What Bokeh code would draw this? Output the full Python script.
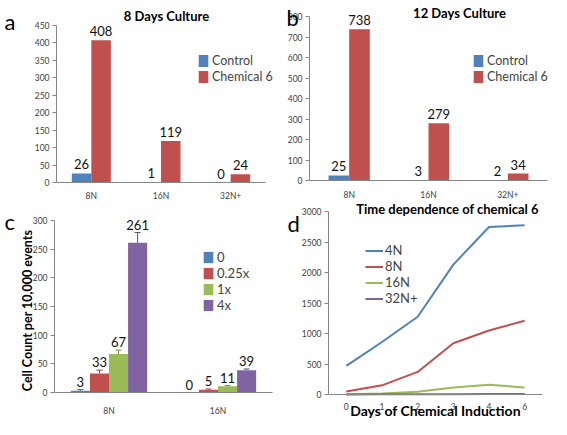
import math
from bokeh.plotting import figure
from bokeh.models import (ColumnDataSource, Label, Legend, LegendItem, Whisker,
                          TeeHead, Range1d, FixedTicker)
from bokeh.transform import dodge
from bokeh.layouts import column, row
from bokeh.embed import file_html
from bokeh.resources import INLINE
from bokeh.core.properties import value

# ---------------- data ----------------
ab_categories = ["8N", "16N", "32N+"]
a_control = [26, 1, 0]
a_chemical = [408, 119, 24]
a_yticks = [0, 50, 100, 150, 200, 250, 300, 350, 400, 450]
b_control = [25, 3, 2]
b_chemical = [738, 279, 34]
b_yticks = [0, 100, 200, 300, 400, 500, 600, 700, 800]

c_categories = ["8N", "16N"]
c_series_names = ["0", "0.25x", "1x", "4x"]
c_dose_0 = [3, 0]
c_dose_025 = [33, 5]
c_dose_1 = [67, 11]
c_dose_4 = [261, 39]
c_err_0 = [2, 0]
c_err_025 = [6, 1]
c_err_1 = [7, 1]
c_err_4 = [18, 2]
c_yticks = [0, 50, 100, 150, 200, 250, 300]

d_days = ["0", "1", "2", "3", "4", "6"]
d_4N = [470, 860, 1275, 2130, 2745, 2775]
d_8N = [50, 150, 370, 840, 1050, 1210]
d_16N = [5, 15, 45, 115, 160, 115]
d_32N = [2, 3, 5, 6, 8, 10]
d_yticks = [0, 500, 1000, 1500, 2000, 2500, 3000]

BLUE = "#4F81BD"
RED = "#C0504D"
GREEN = "#9BBB59"
PURPLE = "#8064A2"
FONT = "Lato"
TICK_FONT = "8.5px"
TITLE_FONT = "13px"

INFO = {}


def make_fig(W, H, ncat, px0, pxn, py0, pytop, ytop, yticks, cats, xstand):
    """Frame covers the whole figure; axes are placed at fixed data locations."""
    sx = (pxn - px0) / ncat
    x_start = -px0 / sx
    x_end = ncat + (W - pxn) / sx
    sy = (py0 - pytop) / ytop
    y_start = -(H - py0) / sy
    y_end = ytop + pytop / sy
    p = figure(width=W, height=H, x_range=Range1d(x_start, x_end),
               y_range=Range1d(y_start, y_end), output_backend="svg",
               toolbar_location=None, min_border=0)
    p.title.visible = False
    p.outline_line_color = None
    p.xgrid.grid_line_color = None
    p.ygrid.grid_line_color = None
    pos = [i + 0.5 for i in range(ncat)]
    xa, ya = p.xaxis[0], p.yaxis[0]
    xa.fixed_location = 0
    ya.fixed_location = 0
    xa.bounds = (0, ncat)
    ya.bounds = (0, ytop)
    xa.ticker = FixedTicker(ticks=pos, minor_ticks=[])
    xa.major_label_overrides = {pp: c for pp, c in zip(pos, cats)}
    ya.ticker = FixedTicker(ticks=yticks, minor_ticks=[])
    for ax in (xa, ya):
        ax.axis_line_color = "#868686"
        ax.major_tick_line_color = "#868686"
        ax.minor_tick_line_color = None
        ax.major_tick_in = 0
        ax.major_tick_out = 4
        ax.major_label_text_font = FONT
        ax.major_label_text_font_size = TICK_FONT
        ax.major_label_text_color = "#404040"
        ax.major_label_standoff = 3
    xa.major_tick_line_color = None
    xa.major_label_standoff = xstand
    INFO[p.id] = (W, H)
    return p, pos


def flabel(p, fx, fy, text, size="13px", bold=False, align="center",
           baseline="middle", angle=0.0, color="#000000"):
    W, H = INFO[p.id]
    lab = Label(x=fx, y=H - fy, x_units="screen", y_units="screen",
                text=text, text_font=FONT, text_font_size=size,
                text_font_style="bold" if bold else "normal",
                text_align=align, text_baseline=baseline, angle=angle,
                text_color=color)
    p.add_layout(lab)


def legend_at(p, items, fx, fy_top, n, row_h, glyph_w, glyph_h, standoff, size="13px"):
    W, H = INFO[p.id]
    leg_h = n * row_h
    lg = Legend(items=items, location=(fx, H - fy_top - leg_h),
                padding=0, margin=0, spacing=0, glyph_width=glyph_w,
                glyph_height=glyph_h, label_height=row_h, label_standoff=standoff,
                label_text_font=FONT, label_text_font_size=size,
                background_fill_alpha=0, border_line_color=None)
    p.add_layout(lg)


def bar_panel(W, H, px0, pxn, py0, pytop, ymax, yticks, control, chem, bw,
              title, tx, ty, letter, lx, ly, legx, legy, xstand):
    p, pos = make_fig(W, H, len(ab_categories), px0, pxn, py0, pytop, ymax,
                      yticks, ab_categories, xstand)
    src = ColumnDataSource(dict(x=pos, control=control, chem=chem,
                                control_txt=[str(v) for v in control],
                                chem_txt=[str(v) for v in chem]))
    r1 = p.vbar(x=dodge("x", -bw / 2), top="control", width=bw,
                source=src, fill_color=BLUE, line_color=None)
    r2 = p.vbar(x=dodge("x", bw / 2), top="chem", width=bw,
                source=src, fill_color=RED, line_color=None)
    for off, col, txt in ((-bw / 2, "control", "control_txt"), (bw / 2, "chem", "chem_txt")):
        p.text(x=dodge("x", off), y=col, text=txt, source=src,
               text_align="center", text_baseline="bottom", y_offset=-4,
               text_font=value(FONT), text_font_size="13px", text_color="#111111")
    flabel(p, tx, ty, title, size=TITLE_FONT, bold=True)
    flabel(p, lx, ly, letter, size="22px", align="left", baseline="alphabetic")
    legend_at(p, [LegendItem(label="Control", renderers=[r1]),
                  LegendItem(label="Chemical 6", renderers=[r2])],
              legx, legy, 2, 16, 12, 15, 3, size="12.5px")
    return p


pa = bar_panel(275, 199, 56, 265, 182, 25, 450, a_yticks, a_control, a_chemical,
               0.28, "8 Days Culture", 166, 15, "a", 4, 21, 197, 52, 4)
pb = bar_panel(276, 199, 34, 272, 180, 16, 800, b_yticks, b_control, b_chemical,
               0.26, "12 Days Culture", 184, 12, "b", 11, 17, 197, 52, 5)

# ---------------- panel c ----------------
pc, pos_c = make_fig(275, 220, len(c_categories), 54, 272, 193, 21, 300, c_yticks,
                     c_categories, 9)
c_vals = [c_dose_0, c_dose_025, c_dose_1, c_dose_4]
c_errs = [c_err_0, c_err_025, c_err_1, c_err_4]
c_cols = [BLUE, RED, GREEN, PURPLE]
c_err_cols = ["#3a6190", "#8f3b39", "#718a41", "#5e4a78"]
bwc = 0.175
c_items = []
for i, (vals, errs, col, ecol, name) in enumerate(zip(c_vals, c_errs, c_cols, c_err_cols, c_series_names)):
    off = (i - 1.5) * bwc
    src = ColumnDataSource(dict(x=pos_c, v=vals,
                                up=[v + e for v, e in zip(vals, errs)],
                                txt=[str(v) for v in vals]))
    r = pc.vbar(x=dodge("x", off), top="v", width=bwc,
                source=src, fill_color=col, line_color=None)
    c_items.append(LegendItem(label=name, renderers=[r]))
    wk = Whisker(base=dodge("x", off), lower="v", upper="up",
                 source=src, line_color=ecol, line_width=1,
                 upper_head=TeeHead(size=6, line_color=ecol, line_width=1),
                 lower_head=None)
    pc.add_layout(wk)
    pc.text(x=dodge("x", off), y="up", text="txt", source=src,
            text_align="center", text_baseline="bottom", y_offset=-3,
            text_font=value(FONT), text_font_size="13px", text_color="#111111")
flabel(pc, 4, 22, "c", size="22px", align="left", baseline="alphabetic")
flabel(pc, 27, 111, "Cell Count per 10,000 events", size="12.5px", bold=True,
       angle=math.pi / 2)
legend_at(pc, c_items, 202, 54, 4, 15, 12, 14, 3, size="13px")

# ---------------- panel d ----------------
pd_, pos_d = make_fig(276, 220, len(d_days), 53, 267, 195, 12, 3000, d_yticks,
                      d_days, 4)
src_d = ColumnDataSource(dict(x=pos_d, n4=d_4N, n8=d_8N, n16=d_16N, n32=d_32N))
d_items = []
for key, col, name in (("n4", BLUE, "4N"), ("n8", RED, "8N"),
                       ("n16", GREEN, "16N"), ("n32", PURPLE, "32N+")):
    r = pd_.line(x="x", y=key, source=src_d, line_color=col, line_width=2)
    d_items.append(LegendItem(label=name, renderers=[r]))
flabel(pd_, 172, 9, "Time dependence of chemical 6", size=TITLE_FONT, bold=True)
flabel(pd_, 12, 24, "d", size="22px", align="left", baseline="alphabetic")
flabel(pd_, 160, 211, "Days of Chemical Induction", size="14px", bold=True)
legend_at(pd_, d_items, 90, 43, 4, 16, 18, 15, 2, size="13px")

layout = column(row(pa, pb), row(pc, pd_))
open("out.html", "w").write(file_html(layout, INLINE))
